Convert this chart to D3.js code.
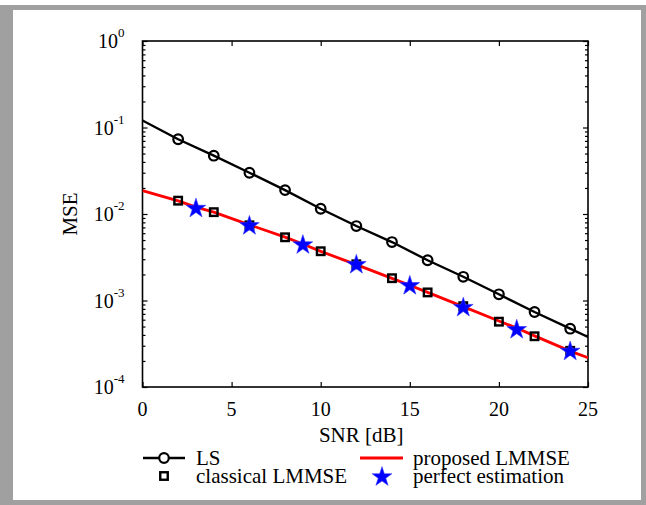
<!DOCTYPE html>
<html>
<head>
<meta charset="utf-8">
<script src="https://cdn.jsdelivr.net/npm/d3@7"></script>
<style>
  body { margin: 0; background: #fff; }
  svg { display: block; }
  text { font-family: "Liberation Serif", "Times New Roman", serif; fill: #000; }
</style>
</head>
<body>
<div class="canvas"></div>
<script>
// data
const xTicks = [0, 5, 10, 15, 20, 25];
const yTicks = [1e-4, 1e-3, 1e-2, 1e-1, 1];
const yExps = ['-4', '-3', '-2', '-1', '0'];

// LS curve (line + circle markers)
const lsLineSnr = [0, 2, 4, 6, 8, 10, 12, 14, 16, 18, 20, 22, 24, 25];
const lsLineMse = [0.1205, 0.0731, 0.0472, 0.0300, 0.0189, 0.0115, 0.00726, 0.00474, 0.00292, 0.00188, 0.00118, 0.000736, 0.000472, 0.000379];
const lsSnr = [2, 4, 6, 8, 10, 12, 14, 16, 18, 20, 22, 24];
const lsMse = [0.0731, 0.0472, 0.0300, 0.0189, 0.0115, 0.00726, 0.00474, 0.00292, 0.00188, 0.00118, 0.000736, 0.000472];

// classical LMMSE (squares only)
const clSnr = [2, 4, 6, 8, 10, 12, 14, 16, 18, 20, 22, 24];
const clMse = [0.01426, 0.0105, 0.0074, 0.00538, 0.00371, 0.00262, 0.00181, 0.00124, 0.00086, 0.000569, 0.000386, 0.000262];

// proposed LMMSE (red line)
const prSnr = [0, 2, 3, 4, 6, 8, 9, 10, 12, 14, 15, 16, 18, 20, 21, 22, 24, 25];
const prMse = [0.0186, 0.0142, 0.0120, 0.0105, 0.0075, 0.0054, 0.0045, 0.0037, 0.0026, 0.0018, 0.0015, 0.00124, 0.00085, 0.00058, 0.00048, 0.00039, 0.00026, 0.000218];

// perfect estimation (stars)
const peSnr = [3, 6, 9, 12, 15, 18, 21, 24];
const peMse = [0.0119, 0.0075, 0.0045, 0.00266, 0.00152, 0.00085, 0.000472, 0.000265];

const W = 646, H = 505;
const margin = { left: 142.5, right: 58, top: 41, bottom: 118 };

const svg = d3.select('.canvas')
  .append('svg')
  .attr('width', W)
  .attr('height', H);

// gray frame
svg.append('rect')
  .attr('x', 0).attr('y', 5)
  .attr('width', W).attr('height', H - 5)
  .attr('fill', '#a0a0a0');
svg.append('rect')
  .attr('x', 13).attr('y', 10)
  .attr('width', 628).attr('height', 490)
  .attr('fill', '#fff');

const x = d3.scaleLinear()
  .domain([0, 25])
  .range([margin.left, W - margin.right]);

const y = d3.scaleLog()
  .domain([1e-4, 1])
  .range([H - margin.bottom, margin.top]);

const [x0, x1] = x.range();
const [y0, y1] = y.range();

// minor ticks 2..9 per decade
const minor = y.ticks().filter(v => !yTicks.some(t => Math.abs(t - v) / t < 1e-6));

const axisG = svg.append('g').attr('class', 'axes');

// left axis, ticks inward
axisG.append('g')
  .attr('transform', `translate(${x0},0)`)
  .call(d3.axisLeft(y).tickValues(yTicks).tickSize(-5).tickFormat(''))
  .call(g => g.select('.domain').remove());
axisG.append('g')
  .attr('transform', `translate(${x0},0)`)
  .call(d3.axisLeft(y).tickValues(minor).tickSize(-3).tickFormat(''))
  .call(g => g.select('.domain').remove());
// right axis
axisG.append('g')
  .attr('transform', `translate(${x1},0)`)
  .call(d3.axisRight(y).tickValues(yTicks).tickSize(-5).tickFormat(''))
  .call(g => g.select('.domain').remove());
axisG.append('g')
  .attr('transform', `translate(${x1},0)`)
  .call(d3.axisRight(y).tickValues(minor).tickSize(-3).tickFormat(''))
  .call(g => g.select('.domain').remove());
// bottom axis
axisG.append('g')
  .attr('transform', `translate(0,${y0})`)
  .call(d3.axisBottom(x).tickValues(xTicks).tickSize(-5).tickFormat(''))
  .call(g => g.select('.domain').remove());
// top axis
axisG.append('g')
  .attr('transform', `translate(0,${y1})`)
  .call(d3.axisTop(x).tickValues(xTicks).tickSize(-5).tickFormat(''))
  .call(g => g.select('.domain').remove());

axisG.selectAll('line').attr('stroke', '#000').attr('stroke-width', 1.2);

// box
svg.append('rect')
  .attr('x', x0).attr('y', y1)
  .attr('width', x1 - x0).attr('height', y0 - y1)
  .attr('fill', 'none')
  .attr('stroke', '#000')
  .attr('stroke-width', 1.6);

// x tick labels
svg.append('g').selectAll('text')
  .data(xTicks)
  .join('text')
  .attr('x', d => x(d))
  .attr('y', y0 + 29)
  .attr('text-anchor', 'middle')
  .attr('font-size', 20)
  .text(d => d);

// y tick labels with superscript
const yl = svg.append('g').selectAll('text')
  .data(yTicks)
  .join('text')
  .attr('x', x0 - 18)
  .attr('y', d => y(d) + 7)
  .attr('text-anchor', 'end')
  .attr('font-size', 20);
yl.append('tspan').text('10');
yl.append('tspan')
  .attr('dy', -11)
  .attr('font-size', 13)
  .text((d, i) => yExps[i]);

// axis labels
svg.append('text')
  .attr('x', (x0 + x1) / 2 - 4)
  .attr('y', 442)
  .attr('text-anchor', 'middle')
  .attr('font-size', 21)
  .text('SNR [dB]');

svg.append('text')
  .attr('transform', `translate(77,${(y0 + y1) / 2}) rotate(-90)`)
  .attr('text-anchor', 'middle')
  .attr('font-size', 21)
  .text('MSE');

// plot group clipped to the box
svg.append('clipPath').attr('id', 'clip')
  .append('rect')
  .attr('x', x0).attr('y', y1)
  .attr('width', x1 - x0).attr('height', y0 - y1);

const graph = svg.append('g').attr('clip-path', 'url(#clip)');

const line = d3.line()
  .x(d => x(d[0]))
  .y(d => y(d[1]));

// LS line
graph.append('path')
  .datum(d3.zip(lsLineSnr, lsLineMse))
  .attr('d', line)
  .attr('fill', 'none')
  .attr('stroke', '#000')
  .attr('stroke-width', 2.4);

// proposed LMMSE line
graph.append('path')
  .datum(d3.zip(prSnr, prMse))
  .attr('d', line)
  .attr('fill', 'none')
  .attr('stroke', '#ff0000')
  .attr('stroke-width', 2.8);

// LS circles
graph.selectAll('circle.ls')
  .data(d3.zip(lsSnr, lsMse))
  .join('circle')
  .attr('class', 'ls')
  .attr('cx', d => x(d[0]))
  .attr('cy', d => y(d[1]))
  .attr('r', 4.8)
  .attr('fill', 'none')
  .attr('stroke', '#000')
  .attr('stroke-width', 2.2);

// classical squares
const sq = 7.5;
graph.selectAll('rect.cl')
  .data(d3.zip(clSnr, clMse))
  .join('rect')
  .attr('class', 'cl')
  .attr('x', d => x(d[0]) - sq / 2)
  .attr('y', d => y(d[1]) - sq / 2)
  .attr('width', sq).attr('height', sq)
  .attr('fill', 'none')
  .attr('stroke', '#000')
  .attr('stroke-width', 2.4);

// stars
const star = d3.symbol().type(d3.symbolStar).size(120);
graph.selectAll('path.pe')
  .data(d3.zip(peSnr, peMse))
  .join('path')
  .attr('class', 'pe')
  .attr('transform', d => `translate(${x(d[0])},${y(d[1]) + 1})`)
  .attr('d', star)
  .attr('fill', '#0000ff')
  .attr('stroke', '#3030ff')
  .attr('stroke-width', 0.6);

// legend
const legend = svg.append('g').attr('class', 'legend');
const row1 = 458, row2 = 476;

legend.append('line')
  .attr('x1', 143).attr('x2', 185)
  .attr('y1', row1).attr('y2', row1)
  .attr('stroke', '#000').attr('stroke-width', 2.4);
legend.append('circle')
  .attr('cx', 164).attr('cy', row1).attr('r', 4.8)
  .attr('fill', '#fff').attr('stroke', '#000').attr('stroke-width', 2.2);
legend.append('text')
  .attr('x', 196).attr('y', row1 + 7)
  .attr('font-size', 21)
  .text('LS');

legend.append('rect')
  .attr('x', 164 - sq / 2).attr('y', row2 - sq / 2)
  .attr('width', sq).attr('height', sq)
  .attr('fill', 'none').attr('stroke', '#000').attr('stroke-width', 2.4);
legend.append('text')
  .attr('x', 196).attr('y', row2 + 7)
  .attr('font-size', 21)
  .text('classical LMMSE');

legend.append('line')
  .attr('x1', 360).attr('x2', 403)
  .attr('y1', row1).attr('y2', row1)
  .attr('stroke', '#ff0000').attr('stroke-width', 2.8);
legend.append('text')
  .attr('x', 413).attr('y', row1 + 7)
  .attr('font-size', 21)
  .text('proposed LMMSE');

legend.append('path')
  .attr('transform', `translate(382,${row2 + 1})`)
  .attr('d', star)
  .attr('fill', '#0000ff')
  .attr('stroke', '#3030ff')
  .attr('stroke-width', 0.6);
legend.append('text')
  .attr('x', 413).attr('y', row2 + 7)
  .attr('font-size', 21)
  .text('perfect estimation');
</script>
</body>
</html>
